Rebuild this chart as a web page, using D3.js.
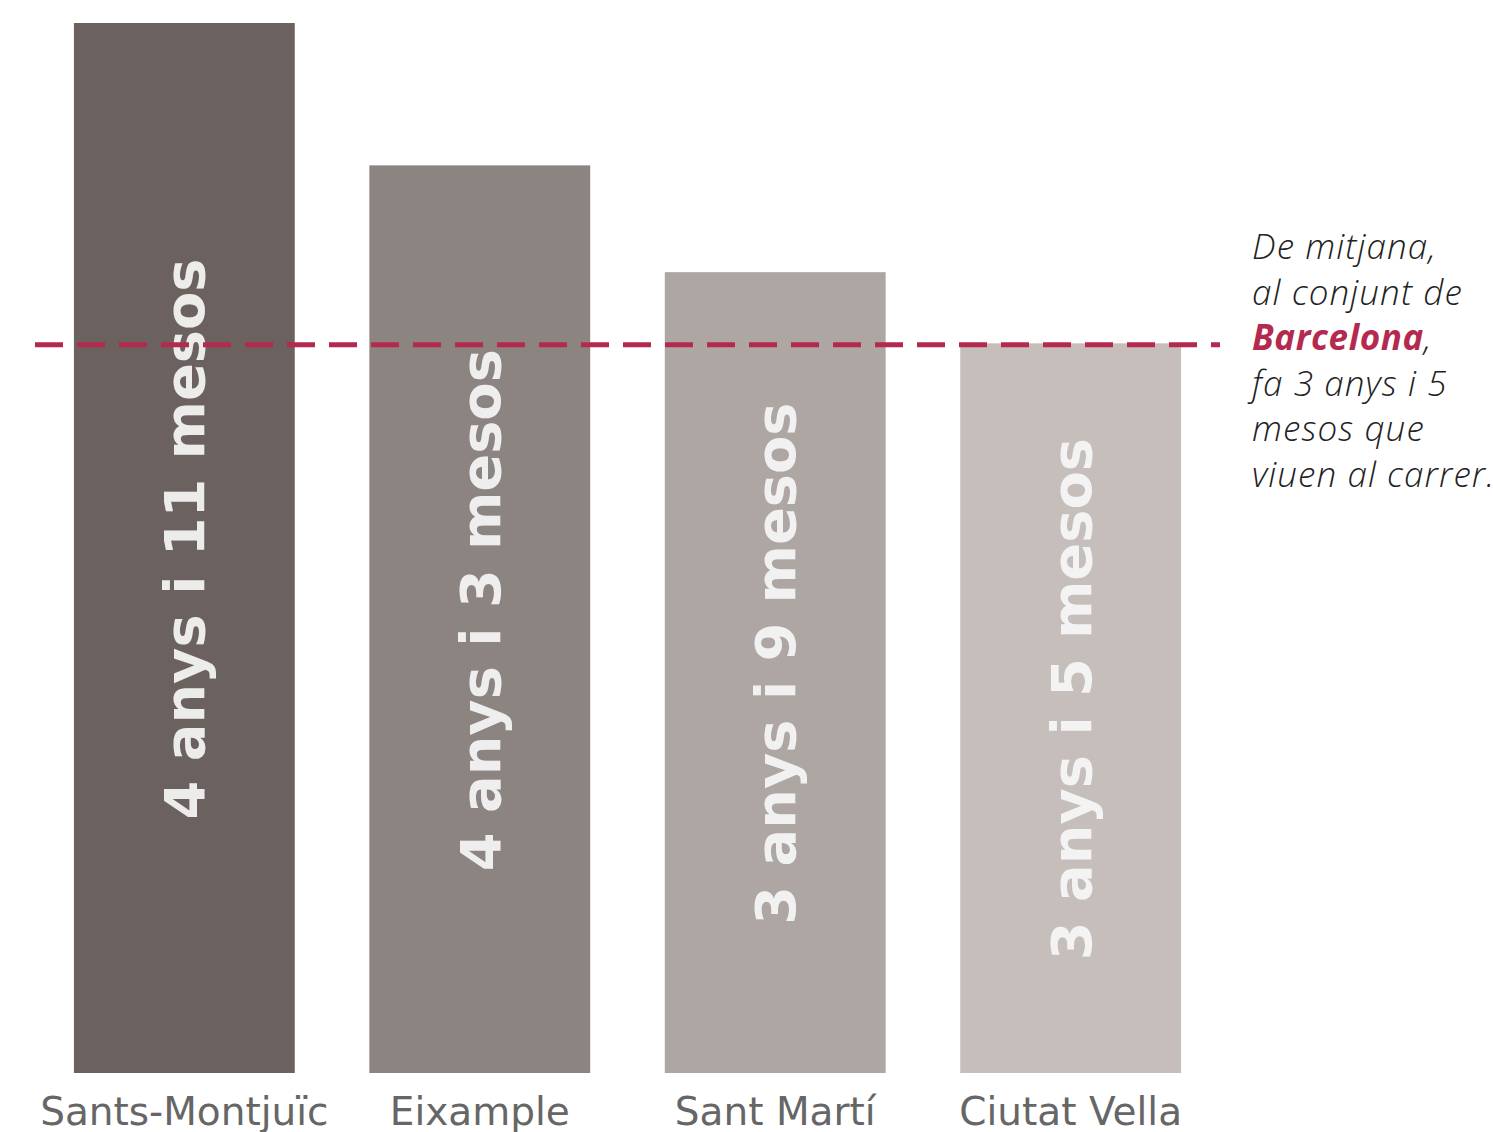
<!DOCTYPE html>
<html><head><meta charset="utf-8">
<script src="https://cdn.jsdelivr.net/npm/d3@7"></script>
<style>body{margin:0;background:#fff;}svg{display:block;}</style>
</head><body>
<svg id="c" width="1493" height="1132"></svg>
<script>
const categories = ["Sants-Montjuïc", "Eixample", "Sant Martí", "Ciutat Vella"];
const monthsValues = [59, 51, 45, 41];
const barLabels = ["4 anys i 11 mesos", "4 anys i 3 mesos", "3 anys i 9 mesos", "3 anys i 5 mesos"];
const barColors = ["#6b6260", "#8c8481", "#aea6a3", "#c6bebb"];
const averageMonths = 41;
const noteLines = [
  [{t:"De mitjana,", b:false}],
  [{t:"al conjunt de", b:false}],
  [{t:"Barcelona", b:true}, {t:",", b:false}],
  [{t:"fa 3 anys i 5", b:false}],
  [{t:"mesos que", b:false}],
  [{t:"viuen al carrer.", b:false}]
];

const svg = d3.select("#c");
const x = d3.scaleBand().domain(categories).range([36.7, 1218.3]).paddingInner(0.2525).paddingOuter(0.126);
const y = d3.scaleLinear().domain([0, 59]).range([1073, 23]);
const red = "#b42a4e";

const data = categories.map((c,i)=>({c, v:monthsValues[i], label:barLabels[i], color:barColors[i]}));

svg.selectAll("rect.bar").data(data).join("rect")
  .attr("class","bar")
  .attr("x", d=>x(d.c)).attr("width", x.bandwidth())
  .attr("y", d=>y(d.v)).attr("height", d=>y(0)-y(d.v))
  .attr("fill", d=>d.color);

svg.selectAll("text.val").data(data).join("text")
  .attr("class","val")
  .attr("transform", d=>{
    const cx = x(d.c) + x.bandwidth()/2;
    const cy = (y(d.v)+y(0))/2 - 9;
    return `translate(${cx + 20},${cy}) rotate(-90)`;
  })
  .attr("text-anchor","middle")
  .attr("font-family","'DejaVu Sans', Verdana, sans-serif")
  .attr("font-weight","bold")
  .attr("font-size", 55.8)
  .attr("fill","#f7f7f7")
  .attr("fill-opacity",0.92)
  .text(d=>d.label);

// axis labels
const xAxis = d3.axisBottom(x).tickSize(0).tickPadding(0);
const gx = svg.append("g").attr("transform","translate(0,1073)").call(xAxis);
gx.select(".domain").remove();
gx.selectAll("text")
  .attr("y", 52).attr("dy", null)
  .attr("font-family","'DejaVu Sans', Verdana, sans-serif")
  .attr("font-size", 39)
  .attr("fill","#666666");

// average line
svg.append("line")
  .attr("x1", 35).attr("x2", 1220)
  .attr("y1", y(averageMonths) + 1.5).attr("y2", y(averageMonths) + 1.5)
  .attr("stroke", red).attr("stroke-width", 5)
  .attr("stroke-dasharray","28 14");

// note
const note = svg.append("text")
  .attr("font-family","'Open Sans', 'Noto Sans', sans-serif")
  .attr("font-style","italic")
  .attr("font-weight",300)
  .attr("font-size", 35)
  .attr("letter-spacing", 1.1)
  .attr("fill","#222");
noteLines.forEach((line,i)=>{
  const tl = note.append("tspan").attr("x",1252).attr("y",259 + i*45.5);
  line.forEach((seg,j)=>{
    const s = j===0 ? tl : note.append("tspan");
    s.text(seg.t);
    if(seg.b){ s.attr("font-weight","bold").attr("fill",red).attr("letter-spacing",0.6); }
  });
});
</script>
</body></html>
